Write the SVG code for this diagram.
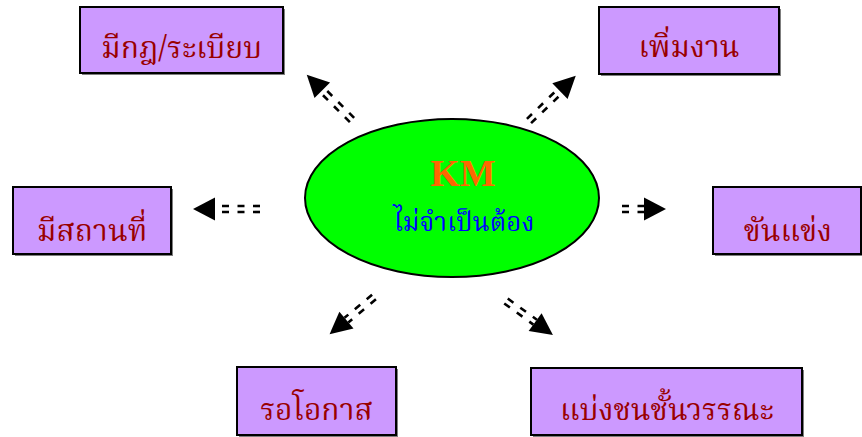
<svg xmlns="http://www.w3.org/2000/svg" width="862" height="437" viewBox="0 0 862 437">
  <style>
    .box { fill: #CC99FF; stroke: #000; stroke-width: 2; }
    .shadow { fill: #7f7f7f; }
    .label { font-family: "Noto Serif Thai", "Noto Sans Thai", "Liberation Serif", serif; font-size: 30px; fill: #990000; text-anchor: middle; }
    .dash { stroke: #000; stroke-width: 2.6; stroke-dasharray: 7 8.5; fill: none; }
    .head { fill: #000; }
  </style>

  <!-- connectors: each is a double dashed shaft along +x with a solid head -->
  <g id="connectors">
    <!-- top-left -->
    <g transform="translate(352,120) rotate(225)">
      <line class="dash" x1="0" y1="-3" x2="42" y2="-3"/>
      <line class="dash" x1="0" y1="3" x2="42" y2="3"/>
      <polygon class="head" points="42,-11 64,0 42,11"/>
    </g>
    <!-- top-right -->
    <g transform="translate(529,121) rotate(-44)">
      <line class="dash" x1="0" y1="-3" x2="43" y2="-3"/>
      <line class="dash" x1="0" y1="3" x2="43" y2="3"/>
      <polygon class="head" points="43,-11 65,0 43,11"/>
    </g>
    <!-- left -->
    <g transform="translate(260,209) rotate(180)">
      <line class="dash" x1="0" y1="-3" x2="45" y2="-3"/>
      <line class="dash" x1="0" y1="3" x2="45" y2="3"/>
      <polygon class="head" points="45,-11.5 67,0 45,11.5"/>
    </g>
    <!-- right -->
    <g transform="translate(622,209)">
      <line class="dash" x1="0" y1="-3" x2="22" y2="-3"/>
      <line class="dash" x1="0" y1="3" x2="22" y2="3"/>
      <polygon class="head" points="22,-11.5 44,0 22,11.5"/>
    </g>
    <!-- bottom-left -->
    <g transform="translate(374,297) rotate(140)">
      <line class="dash" x1="0" y1="-3" x2="36" y2="-3"/>
      <line class="dash" x1="0" y1="3" x2="36" y2="3"/>
      <polygon class="head" points="36,-11 58,0 36,11"/>
    </g>
    <!-- bottom-right -->
    <g transform="translate(506,301) rotate(36)">
      <line class="dash" x1="0" y1="-3" x2="36" y2="-3"/>
      <line class="dash" x1="0" y1="3" x2="36" y2="3"/>
      <polygon class="head" points="36,-11 58,0 36,11"/>
    </g>
  </g>

  <!-- centre -->
  <g id="km">
    <ellipse cx="452" cy="198" rx="147" ry="79" fill="#00FF00" stroke="#000" stroke-width="2"/>
    <text x="463" y="186" font-family="Liberation Serif, serif" font-weight="bold" font-size="38" fill="#FF6600" text-anchor="middle">KM</text>
    <text x="464" y="231" font-family="Noto Serif Thai, Noto Sans Thai, Liberation Serif, serif" font-size="26" fill="#0000FF" text-anchor="middle">ไม่จำเป็นต้อง</text>
  </g>

  <g id="rules">
    <rect class="shadow" x="82" y="9" width="203" height="66"/>
    <rect class="box" x="80" y="7" width="203" height="66"/>
    <text class="label" x="181.5" y="58">มีกฎ/ระเบียบ</text>
  </g>
  <g id="more-work">
    <rect class="shadow" x="601" y="9" width="180" height="67"/>
    <rect class="box" x="599" y="7" width="180" height="67"/>
    <text class="label" x="689" y="57">เพิ่มงาน</text>
  </g>
  <g id="place">
    <rect class="shadow" x="15" y="189" width="158" height="67"/>
    <rect class="box" x="13" y="187" width="158" height="67"/>
    <text class="label" x="92" y="241">มีสถานที่</text>
  </g>
  <g id="compete">
    <rect class="shadow" x="715" y="189" width="148" height="67"/>
    <rect class="box" x="713" y="187" width="148" height="67"/>
    <text class="label" x="788" y="241">ขันแข่ง</text>
  </g>
  <g id="wait">
    <rect class="shadow" x="239" y="369" width="159" height="68"/>
    <rect class="box" x="237" y="367" width="159" height="68"/>
    <text class="label" x="316.5" y="420">รอโอกาส</text>
  </g>
  <g id="class">
    <rect class="shadow" x="533" y="370" width="271" height="67"/>
    <rect class="box" x="531" y="368" width="271" height="67"/>
    <text class="label" x="667" y="420">แบ่งชนชั้นวรรณะ</text>
  </g>
</svg>
